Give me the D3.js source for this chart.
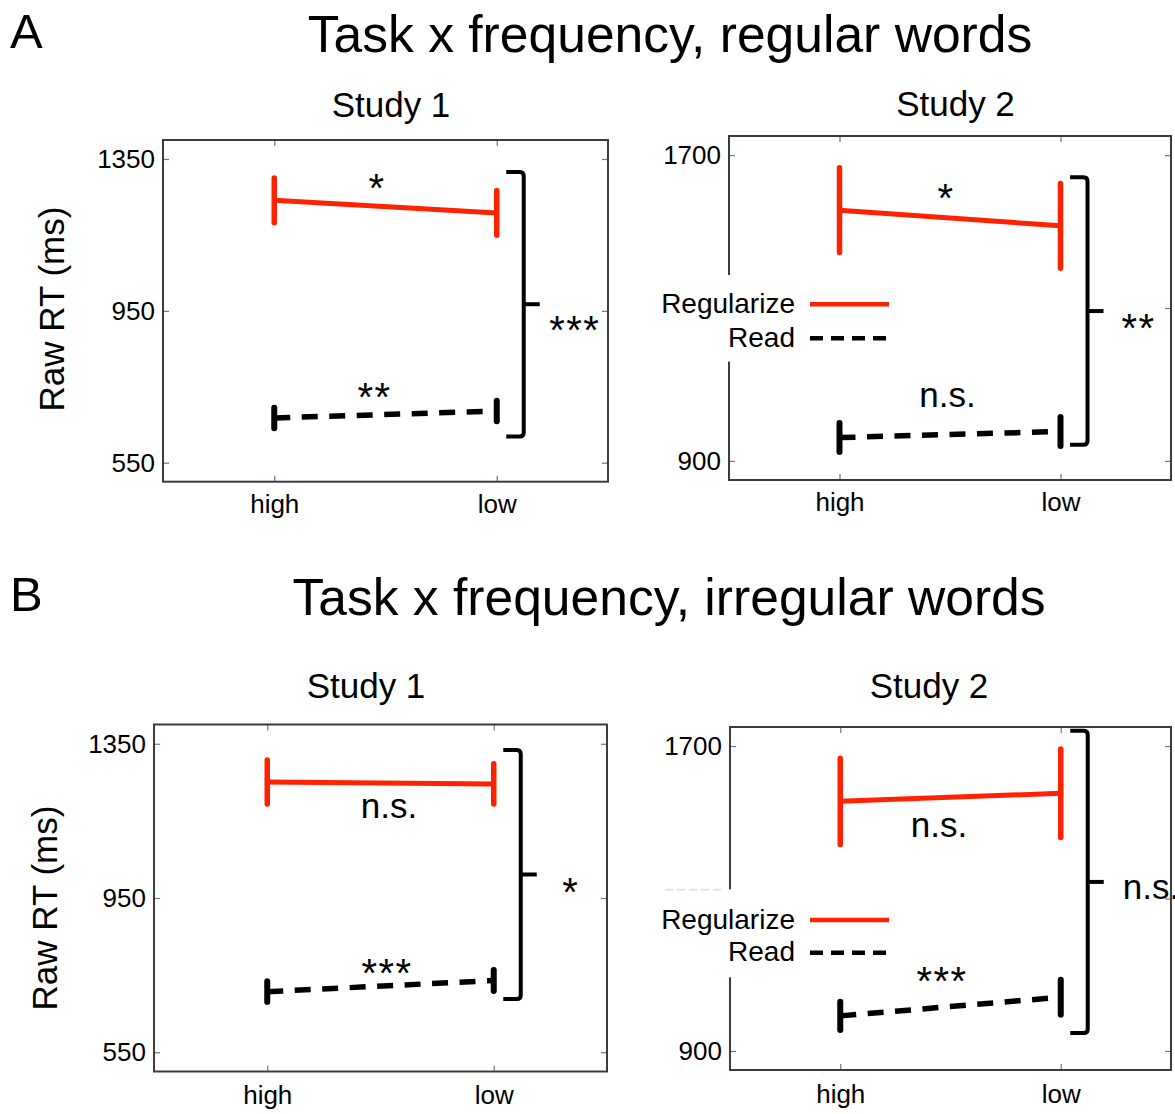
<!DOCTYPE html>
<html>
<head>
<meta charset="utf-8">
<script src="https://cdn.jsdelivr.net/npm/d3@7/dist/d3.min.js"></script>
<style>
  body { margin: 0; background: #fff; }
  svg { display: block; }
  text { font-family: "Liberation Sans", Arial, Helvetica, sans-serif; fill: #000; }
</style>
</head>
<body>
<svg id="fig" width="1175" height="1114"></svg>
<script>
// ---- data -------------------------------------------------------------
const frequency = ["high", "low"];
const conditions = ["Regularize", "Read"];
const panelLetters = ["A", "B"];
const panelTitles = ["Task x frequency, regular words", "Task x frequency, irregular words"];
const studyNames = ["Study 1", "Study 2"];
const yAxisLabel = "Raw RT (ms)";

const yDomainStudy1 = [500, 1400];
const yDomainStudy2 = [850, 1750];
const yTicksStudy1 = [550, 950, 1350];
const yTicksStudy2 = [900, 1300, 1700];

// mean raw RT (ms) for high / low frequency words, and error-bar half-lengths
const regularizeRegularStudy1 = [1241, 1208];
const regularizeRegularStudy1Err = [59, 59];
const readRegularStudy1 = [668, 686];
const readRegularStudy1Err = [27, 27];

const regularizeRegularStudy2 = [1556, 1515];
const regularizeRegularStudy2Err = [111, 111];
const readRegularStudy2 = [961, 977];
const readRegularStudy2Err = [38, 38];

const regularizeIrregularStudy1 = [1251, 1246];
const regularizeIrregularStudy1Err = [57, 52];
const readIrregularStudy1 = [707, 736];
const readIrregularStudy1Err = [27, 27];

const regularizeIrregularStudy2 = [1555, 1576];
const regularizeIrregularStudy2Err = [113, 116];
const readIrregularStudy2 = [992, 1041];
const readIrregularStudy2Err = [37, 46];

// significance marks: frequency effect per task, and task effect (bracket)
const sigFreqRegularize = ["*", "*", "n.s.", "n.s."];
const sigFreqRead = ["**", "n.s.", "***", "***"];
const sigTask = ["***", "**", "*", "n.s."];

// ---- layout -----------------------------------------------------------
const RED = "#ff2200";
const FS_TICK = 26, FS_STAR = 40, FS_NS = 35, FS_LEG = 28, FS_TITLE = 51.6, FS_STUDY = 35;

const panels = [
  { row: 0, col: 0, box: { l: 163, r: 608, t: 140, b: 481.7 }, yDomain: yDomainStudy1, yTicks: yTicksStudy1,
    reg: regularizeRegularStudy1, regErr: regularizeRegularStudy1Err, read: readRegularStudy1, readErr: readRegularStudy1Err,
    studyX: 391, studyY: 117, xLabPad: 12.5, yLab: { x: 64, y: 309 },
    regMark: { dx: -8.5, dy: -28 }, readMark: { dx: -11, dy: -27 },
    bracket: [1316, 619], taskMark: { dx: 35, dy: 17, anchor: "middle" } },
  { row: 0, col: 1, box: { l: 729, r: 1171, t: 136, b: 480 }, yDomain: yDomainStudy2, yTicks: yTicksStudy2,
    reg: regularizeRegularStudy2, regErr: regularizeRegularStudy2Err, read: readRegularStudy2, readErr: readRegularStudy2Err,
    studyX: 955.5, studyY: 115.5, xLabPad: 12.5,
    regMark: { dx: -4, dy: -29.5 }, readMark: { dx: -2.5, dy: -36.5 },
    bracket: [1642, 942], taskMark: { dx: 35, dy: 8, anchor: "middle" },
    legend: { top: 275, bottom: 361.7, left: 650, right: 896, textX: 795, lineX: [810, 889], rows: [304.3, 338.3] } },
  { row: 1, col: 0, box: { l: 154, r: 607, t: 724.5, b: 1071.5 }, yDomain: yDomainStudy1, yTicks: yTicksStudy1,
    reg: regularizeIrregularStudy1, regErr: regularizeIrregularStudy1Err, read: readIrregularStudy1, readErr: readIrregularStudy1Err,
    studyX: 366, studyY: 698, xLabPad: 14.5, yLab: { x: 57, y: 908 },
    regMark: { dx: 8.5, dy: 26 }, readMark: { dx: 6.5, dy: -22 },
    bracket: [1334, 688], taskMark: { dx: 34, dy: 8, anchor: "middle" } },
  { row: 1, col: 1, box: { l: 730, r: 1171, t: 727, b: 1070 }, yDomain: yDomainStudy2, yTicks: yTicksStudy2,
    reg: regularizeIrregularStudy2, regErr: regularizeIrregularStudy2Err, read: readIrregularStudy2, readErr: readIrregularStudy2Err,
    studyX: 929, studyY: 698, xLabPad: 14.5,
    regMark: { dx: -11.5, dy: 31 }, readMark: { dx: -8.5, dy: -35 },
    bracket: [1740, 947], taskMark: { dx: 19, dy: 8, anchor: "start" },
    legend: { top: 889.3, bottom: 977.3, left: 650, right: 896, textX: 795, lineX: [810, 889], rows: [920, 952.7], faintTop: [665, 721] } }
];

const svg = d3.select("#fig");

// panel letters and row titles
const rowTitle = [
  { letterX: 10, baseline: 48, titleX: 670 },
  { letterX: 10, baseline: 611, titleX: 669 }
];
rowTitle.forEach((r, i) => {
  svg.append("text").attr("x", r.letterX).attr("y", r.baseline)
    .attr("font-size", 49).text(panelLetters[i]);
  svg.append("text").attr("x", r.titleX).attr("y", r.baseline + 4)
    .attr("text-anchor", "middle").attr("font-size", FS_TITLE).text(panelTitles[i]);
});

// significance mark whose glyphs are centred at (cx, cy)
function markText(g, label, cx, cy, anchor) {
  const star = label.startsWith("*");
  g.append("text")
    .attr("x", cx).attr("y", star ? cy + 0.58 * FS_STAR : cy + 0.26 * FS_NS)
    .attr("text-anchor", anchor || "middle")
    .attr("font-size", star ? FS_STAR : FS_NS)
    .attr("letter-spacing", star ? 1.5 : 0)
    .text(label);
}

panels.forEach((p, i) => {
  const g = svg.append("g");
  const { l, r, t, b } = p.box;

  const x = d3.scalePoint().domain(frequency).range([l, r]).padding(0.5);
  const y = d3.scaleLinear().domain(p.yDomain).range([b, t]);

  // study title
  g.append("text").attr("x", p.studyX).attr("y", p.studyY)
    .attr("text-anchor", "middle").attr("font-size", FS_STUDY).text(studyNames[p.col]);

  // axes with inward ticks on all four sides
  const styleAxis = sel => {
    sel.select(".domain").remove();
    sel.selectAll(".tick line").attr("stroke", "#777").attr("stroke-width", 1.2);
    sel.selectAll(".tick text").attr("font-size", FS_TICK).attr("fill", "#000")
      .style("font-family", '"Liberation Sans", Arial, Helvetica, sans-serif');
  };
  // tick labels hidden behind the legend box are left out
  const hidden = v => p.legend && y(v) > p.legend.top && y(v) < p.legend.bottom;
  const leftAxis = g.append("g").attr("transform", `translate(${l},0)`)
    .call(d3.axisLeft(y).tickValues(p.yTicks).tickSize(-6).tickPadding(8)
      .tickFormat(v => hidden(v) ? "" : d3.format("d")(v)))
    .call(styleAxis);
  leftAxis.selectAll(".tick").filter(v => hidden(v)).select("text").remove();
  g.append("g").attr("transform", `translate(${r},0)`)
    .call(d3.axisRight(y).tickValues(p.yTicks).tickSize(-6).tickFormat(""))
    .call(styleAxis);
  g.append("g").attr("transform", `translate(0,${b})`)
    .call(d3.axisBottom(x).tickSize(-6).tickPadding(p.xLabPad))
    .call(styleAxis);
  g.append("g").attr("transform", `translate(0,${t})`)
    .call(d3.axisTop(x).tickSize(-6).tickFormat(""))
    .call(styleAxis);

  // frame
  g.append("rect").attr("x", l).attr("y", t).attr("width", r - l).attr("height", b - t)
    .attr("fill", "none").attr("stroke", "#3c3c3c").attr("stroke-width", 2);

  // y-axis label on the left-hand panels
  if (p.yLab) {
    g.append("text")
      .attr("transform", `translate(${p.yLab.x},${p.yLab.y}) rotate(-90)`)
      .attr("text-anchor", "middle").attr("font-size", 35).text(yAxisLabel);
  }

  const line = d3.line().x((d, k) => x(frequency[k])).y(d => y(d));

  // Regularize: solid red with error bars
  g.append("path").datum(p.reg).attr("d", line)
    .attr("fill", "none").attr("stroke", RED).attr("stroke-width", 5);
  g.selectAll(".regErr").data(p.reg).join("line")
    .attr("x1", (d, k) => x(frequency[k])).attr("x2", (d, k) => x(frequency[k]))
    .attr("y1", (d, k) => y(d - p.regErr[k])).attr("y2", (d, k) => y(d + p.regErr[k]))
    .attr("stroke", RED).attr("stroke-width", 5.5).attr("stroke-linecap", "round");

  // Read: dashed black with error bars
  g.append("path").datum(p.read).attr("d", line)
    .attr("fill", "none").attr("stroke", "#000").attr("stroke-width", 5.5)
    .attr("stroke-dasharray", "16,11.5");
  g.selectAll(".readErr").data(p.read).join("line")
    .attr("x1", (d, k) => x(frequency[k])).attr("x2", (d, k) => x(frequency[k]))
    .attr("y1", (d, k) => y(d - p.readErr[k])).attr("y2", (d, k) => y(d + p.readErr[k]))
    .attr("stroke", "#000").attr("stroke-width", 6).attr("stroke-linecap", "round");

  // frequency-effect marks
  const midX = (x(frequency[0]) + x(frequency[1])) / 2;
  const regMid = y((p.reg[0] + p.reg[1]) / 2);
  const readMid = y((p.read[0] + p.read[1]) / 2);
  markText(g, sigFreqRegularize[i], midX + p.regMark.dx, regMid + p.regMark.dy);
  markText(g, sigFreqRead[i], midX + p.readMark.dx, readMid + p.readMark.dy);

  // task-effect bracket
  const xl = x(frequency[1]);
  const bx0 = xl + 9.5, bx1 = xl + 27, bx2 = xl + 43;
  const by0 = y(p.bracket[0]), by1 = y(p.bracket[1]), bym = (by0 + by1) / 2;
  const rr = 4;
  g.append("path")
    .attr("d", `M${bx0},${by0} H${bx1 - rr} Q${bx1},${by0} ${bx1},${by0 + rr} V${by1 - rr} Q${bx1},${by1} ${bx1 - rr},${by1} H${bx0}`)
    .attr("fill", "none").attr("stroke", "#000").attr("stroke-width", 4);
  g.append("line").attr("x1", bx1).attr("x2", bx2).attr("y1", bym).attr("y2", bym)
    .attr("stroke", "#000").attr("stroke-width", 4);
  markText(g, sigTask[i], bx2 + p.taskMark.dx, bym + p.taskMark.dy, p.taskMark.anchor);

  // legend (white box over the left axis)
  if (p.legend) {
    const L = p.legend;
    g.append("rect").attr("x", L.left).attr("y", L.top)
      .attr("width", L.right - L.left).attr("height", L.bottom - L.top).attr("fill", "#fff");
    if (L.faintTop) {
      g.append("line").attr("x1", L.faintTop[0]).attr("x2", L.faintTop[1])
        .attr("y1", L.top + 0.5).attr("y2", L.top + 0.5)
        .attr("stroke", "#e2e2e2").attr("stroke-width", 2).attr("stroke-dasharray", "8,4");
    }
    conditions.forEach((c, k) => {
      const ly = L.rows[k];
      g.append("text").attr("x", L.textX).attr("y", ly + 8.5)
        .attr("text-anchor", "end").attr("font-size", FS_LEG).text(c);
      g.append("line").attr("x1", L.lineX[0]).attr("x2", L.lineX[1]).attr("y1", ly).attr("y2", ly)
        .attr("stroke", k === 0 ? RED : "#000").attr("stroke-width", 4.5)
        .attr("stroke-dasharray", k === 0 ? null : "13,8");
    });
  }
});
</script>
</body>
</html>
